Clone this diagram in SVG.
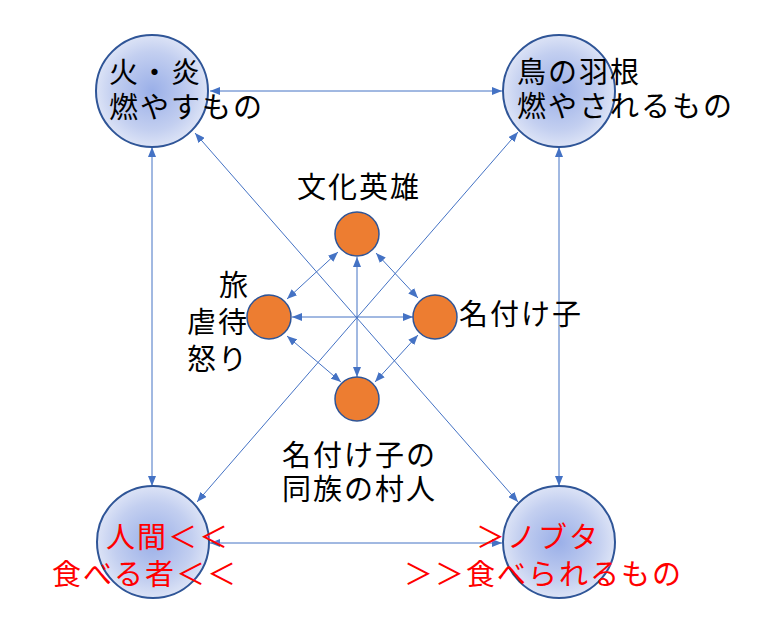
<svg xmlns="http://www.w3.org/2000/svg" width="760" height="640" viewBox="0 0 760 640">
<style>
.big{fill:url(#bg);stroke:#2F5597;stroke-width:2}
.sm{fill:#ED7D31;stroke:#2F5597;stroke-width:1.5}
.t{font-family:"Noto Sans CJK JP","Noto Sans CJK SC",sans-serif;font-size:29px;letter-spacing:2px;fill:#000}
.r{fill:#FF0000}
.c line{stroke:#4472C4;stroke-width:1;marker-start:url(#ah);marker-end:url(#ah)}
</style>
<defs>
<radialGradient id="bg" cx="50%" cy="50%" r="50%">
<stop offset="0" stop-color="#9AAFE8"/>
<stop offset="0.7" stop-color="#C3CFF0"/>
<stop offset="1" stop-color="#DCE3F6"/>
</radialGradient>
<marker id="ah" markerUnits="userSpaceOnUse" markerWidth="10" markerHeight="8" refX="10" refY="4" orient="auto-start-reverse">
<path d="M0,0 L10,4 L0,8 z" fill="#4472C4"/>
</marker>
</defs>
<rect width="760" height="640" fill="#fff"/>
<g id="connectors" class="c">
<line x1="210" y1="91" x2="502" y2="91"/>
<line x1="210" y1="543" x2="502" y2="543"/>
<line x1="152" y1="147" x2="152" y2="486"/>
<line x1="559" y1="147" x2="559" y2="486"/>
<line x1="195" y1="133" x2="518" y2="502"/>
<line x1="518" y1="132" x2="197" y2="502"/>
<line x1="357" y1="257" x2="357" y2="377"/>
<line x1="292" y1="317" x2="413" y2="317"/>
<line x1="338" y1="252" x2="287" y2="299"/>
<line x1="376" y1="253" x2="418" y2="298"/>
<line x1="287" y1="336" x2="341" y2="382"/>
<line x1="418" y1="335" x2="375" y2="382"/>
</g>
<g id="fire">
<circle class="big" cx="152" cy="91" r="56"/>
<text class="t" x="109" y="83">火・炎</text>
<text class="t" x="109" y="118">燃やすもの</text>
</g>
<g id="feather">
<circle class="big" cx="559" cy="91" r="56"/>
<text class="t" x="517" y="83">鳥の羽根</text>
<text class="t" x="517" y="117">燃やされるもの</text>
</g>
<g id="human">
<circle class="big" cx="153" cy="542" r="56"/>
<text class="t r" x="106" y="548">人間＜＜</text>
<text class="t r" x="52" y="585">食べる者＜＜</text>
</g>
<g id="nobuta">
<circle class="big" cx="559" cy="542" r="56"/>
<text class="t r" x="476" y="548">＞ノブタ</text>
<text class="t r" x="404" y="585">＞＞食べられるもの</text>
</g>
<g id="hero">
<circle class="sm" cx="357" cy="234" r="22"/>
<text class="t" x="297" y="198">文化英雄</text>
</g>
<g id="travel">
<circle class="sm" cx="269" cy="317" r="22"/>
<text class="t" x="219" y="296">旅</text>
<text class="t" x="187" y="333">虐待</text>
<text class="t" x="187" y="370">怒り</text>
</g>
<g id="namechild">
<circle class="sm" cx="435" cy="317" r="22"/>
<text class="t" x="459" y="325">名付け子</text>
</g>
<g id="villagers">
<circle class="sm" cx="357" cy="399" r="22"/>
<text class="t" x="282" y="466">名付け子の</text>
<text class="t" x="282" y="500">同族の村人</text>
</g>
</svg>
